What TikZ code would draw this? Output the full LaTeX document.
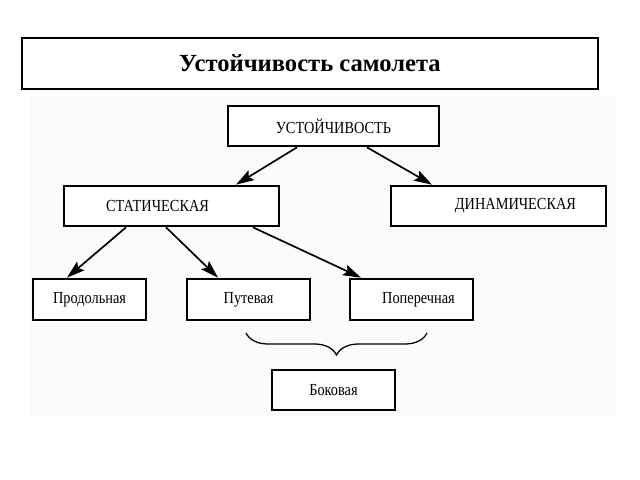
\documentclass[tikz,border=0pt]{standalone}
\usepackage{fontspec}
\setmainfont{Liberation Serif}
\usetikzlibrary{arrows.meta}
\usetikzlibrary{calc}
\usetikzlibrary{decorations.pathreplacing}

\newcommand{\nrw}[1]{\scalebox{0.85}[1]{#1}}

\begin{document}
\begin{tikzpicture}[x=0.025cm,y=-0.025cm,inner sep=0pt,>={Stealth[length=4.5mm,width=2.8mm,inset=0.8mm]},
  box/.style={draw,line width=1.9pt,rectangle,minimum height=1cm,font=\fontsize{12}{14}\selectfont},
  link/.style={->,line width=1.2pt}]
\useasboundingbox (0,0) rectangle (640,480);
\fill [black!1.5] (30,97) rectangle (616,416);
% title
\node [draw,line width=1.9pt,minimum width=14.4cm,minimum height=1.275cm] (title) at (310,63.5) {\fontsize{17.5}{20}\selectfont\bfseries Устойчивость самолета};
% tree
\node [box,fill=white,minimum width=5.275cm] (ust) at (333.5,126) {\nrw{УСТОЙЧИВОСТЬ}};
\node [box,fill=white,minimum width=5.375cm] (stat) at (171.5,206) {\nrw{СТАТИЧЕСКАЯ}\hspace*{0.7cm}};
\node [box,fill=white,minimum width=5.375cm] (din) at (498.5,206) {\hspace*{0.85cm}\nrw{ДИНАМИЧЕСКАЯ}};
\node [box,fill=white,minimum width=2.825cm,minimum height=1.025cm] (prod) at (89.5,299.5) {\nrw{Продольная}};
\node [box,fill=white,minimum width=3.075cm,minimum height=1.025cm] (put) at (248.5,299.5) {\nrw{Путевая}};
\node [box,fill=white,minimum width=3.075cm,minimum height=1.025cm] (pop) at (411.5,299.5) {\hspace*{0.35cm}\nrw{Поперечная}};
\node [box,fill=white,minimum width=3.075cm] (bok) at (333.5,390) {\nrw{Боковая}};
\draw [link] ($ (ust.south) + (-36.5,0) $) -- ($ (stat.north) + (64.5,0) $);
\draw [link] ($ (ust.south) + (33.5,0) $) -- ($ (din.north) + (-66.5,0) $);
\draw [link] ($ (stat.south) + (-45.5,0) $) -- ($ (prod.north) + (-22.5,0) $);
\draw [link] ($ (stat.south) + (-5.5,0) $) -- ($ (put.north) + (-30.5,0) $);
\draw [link] ($ (stat.south) + (81.5,0) $) -- ($ (pop.north) + (-50.5,0) $);
% brace
\coordinate (bl) at (246,333);
\coordinate (br) at (427,333);
\draw [line width=0.9pt,decorate,decoration={brace,mirror,amplitude=0.55cm}] (bl) -- (br);
\end{tikzpicture}
\end{document}
